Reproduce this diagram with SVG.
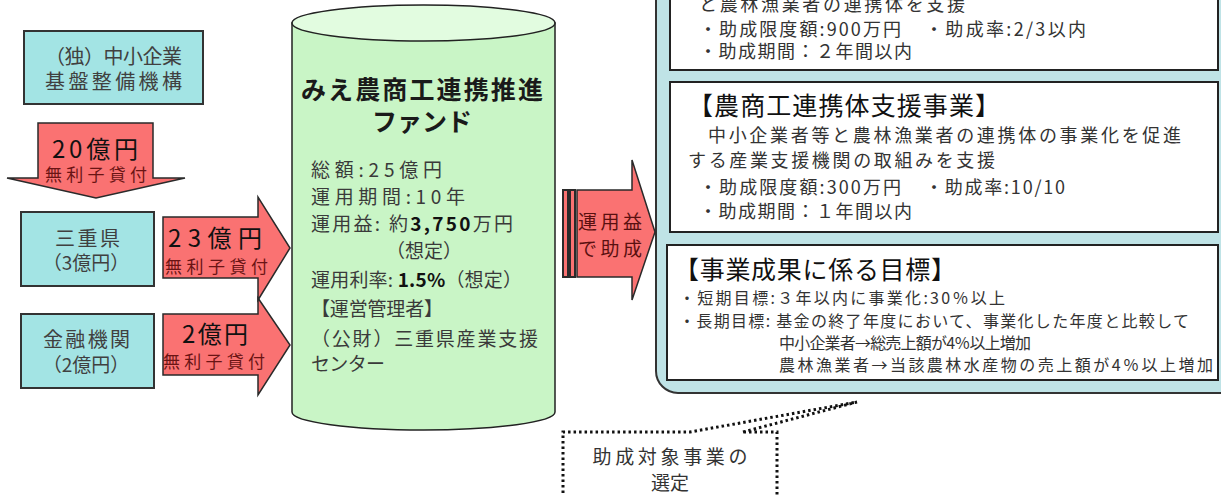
<svg xmlns="http://www.w3.org/2000/svg" width="1221" height="495" viewBox="0 0 1221 495">
<style>
text{font-family:"Noto Sans CJK JP","Noto Sans CJK SC",sans-serif;dominant-baseline:central}
.lbox{fill:#a3e4e4;stroke:#333;stroke-width:2}
.lt{font-size:20px;fill:#404040}
.lm{font-size:19px;fill:#404040;text-anchor:middle}
.red{fill:#fa7272;stroke:#2a2a2a;stroke-width:1.5;stroke-linejoin:miter}
.amt{font-size:24px;fill:#111}
.loan{font-size:17px;fill:#6a1414}
.ft{font-size:25px;font-weight:bold;fill:#1a1a1a}
.fb{font-size:19px;fill:#3a3a3a}
.bold{font-weight:bold;fill:#111}
.panel{fill:#bfe3e6;stroke:#333;stroke-width:2}
.wbox{fill:#fff;stroke:#222;stroke-width:2}
.ttl{font-size:25px;fill:#111}
.bt{font-size:18px;fill:#333}
.st{font-size:16px;fill:#333}
.dot{fill:none;stroke:#111;stroke-width:3;stroke-dasharray:2.5 3}
</style>

<g id="node-smrj">
<rect class="lbox" x="24" y="31" width="179" height="73"/>
<text class="lt" x="45" y="55" textLength="137">（独）中小企業</text>
<text class="lt" x="45" y="80" textLength="137">基盤整備機構</text>
</g>

<g id="node-mie">
<rect class="lbox" x="21" y="212" width="133" height="74"/>
<text class="lt" x="55" y="237" textLength="65">三重県</text>
<text class="lm" x="86" y="261">（3億円）</text>
</g>

<g id="node-bank">
<rect class="lbox" x="21" y="314" width="133" height="74"/>
<text class="lt" x="43" y="338" textLength="87">金融機関</text>
<text class="lm" x="86" y="363">（2億円）</text>
</g>

<g id="node-fund">
<path d="M292,23 V412 A131.5,18 0 0 0 555,412 V23 Z" fill="#c9f5c6" stroke="#222" stroke-width="1.5"/>
<ellipse cx="423.5" cy="23" rx="131.5" ry="18" fill="#e2fce0" stroke="#222" stroke-width="1.5"/>
<text class="ft" x="301" y="88" textLength="242">みえ農商工連携推進</text>
<text class="ft" x="422" y="120" text-anchor="middle">ファンド</text>
<text class="fb" x="311" y="168" textLength="131">総額:25億円</text>
<text class="fb" x="311" y="195" textLength="154">運用期間:10年</text>
<text class="fb" x="311" y="222" textLength="202">運用益: 約<tspan class="bold">3,750</tspan>万円</text>
<text class="fb" x="424" y="249" text-anchor="middle">（想定）</text>
<text class="fb" x="311" y="278" textLength="211">運用利率: <tspan class="bold">1.5%</tspan>（想定）</text>
<text class="fb" x="311" y="307" textLength="132">【運営管理者】</text>
<text class="fb" x="311" y="337" textLength="227">（公財）三重県産業支援</text>
<text class="fb" x="311" y="362" textLength="74">センター</text>
</g>

<g id="node-panel">
<rect class="panel" x="656" y="-30" width="600" height="423" rx="22"/>
</g>

<g id="node-box1">
<rect class="wbox" x="670" y="-10" width="548" height="80"/>
<text class="bt" x="699" y="3" textLength="266">と農林漁業者の連携体を支援</text>
<text class="bt" x="699" y="28" textLength="202">・助成限度額:900万円</text>
<text class="bt" x="925" y="28" textLength="161">・助成率:2/3以内</text>
<text class="bt" x="699" y="50" textLength="213">・助成期間：２年間以内</text>
</g>

<g id="node-box2">
<rect class="wbox" x="670" y="82" width="548" height="150"/>
<text class="ttl" x="688" y="104" textLength="312">【農商工連携体支援事業】</text>
<text class="bt" x="708" y="134" textLength="473">中小企業者等と農林漁業者の連携体の事業化を促進</text>
<text class="bt" x="688" y="159" textLength="307">する産業支援機関の取組みを支援</text>
<text class="bt" x="699" y="186" textLength="202">・助成限度額:300万円</text>
<text class="bt" x="925" y="186" textLength="140">・助成率:10/10</text>
<text class="bt" x="699" y="210" textLength="213">・助成期間：１年間以内</text>
</g>

<g id="node-box3">
<rect class="wbox" x="667" y="245" width="551" height="135"/>
<text class="ttl" x="674" y="268" textLength="282">【事業成果に係る目標】</text>
<text class="st" x="679" y="297" textLength="326">・短期目標:３年以内に事業化:30％以上</text>
<text class="st" x="679" y="320" textLength="510">・長期目標: 基金の終了年度において、事業化した年度と比較して</text>
<text class="st" x="779" y="342" textLength="252">中小企業者→総売上額が4％以上増加</text>
<text class="st" x="779" y="364" textLength="434">農林漁業者→当該農林水産物の売上額が4％以上増加</text>
</g>

<g id="node-callout">
<rect x="563" y="432" width="214" height="80" fill="#fff"/>
<path class="dot" d="M743,432 L857,402 L690,432 H563 V500 M777,500 V432 H743"/>
<text x="670" y="455" text-anchor="middle" style="font-size:19px;fill:#333" textLength="155">助成対象事業の</text>
<text x="670" y="481" text-anchor="middle" style="font-size:19px;fill:#333">選定</text>
</g>

<g id="connectors">
<g id="arrow-20">
<polygon class="red" points="38,123 153,123 153,178 185,178 96,198 7,178 38,178"/>
<text class="amt" x="52" y="147" textLength="86">20億円</text>
<text class="loan" x="45" y="173" textLength="102">無利子貸付</text>
</g>
<g id="arrow-23">
<polygon class="red" points="163,217 258,217 258,197 290,248 258,300 258,278 163,278"/>
<text class="amt" x="168" y="236" textLength="94">23億円</text>
<text class="loan" x="165" y="265" textLength="103">無利子貸付</text>
</g>
<g id="arrow-2">
<polygon class="red" points="163,314 258,314 258,298 290,345 258,395 258,375 163,375"/>
<text class="amt" x="182" y="332" textLength="66">2億円</text>
<text class="loan" x="163" y="360" textLength="102">無利子貸付</text>
</g>
<g id="arrow-grant">
<rect class="red" x="563" y="190" width="5" height="87" style="stroke-width:2"/>
<rect class="red" x="570" y="190" width="5" height="87" style="stroke-width:2"/>
<polygon class="red" points="577,190 632,190 632,160 655,232 632,300 632,277 577,277"/>
<text x="578" y="220" style="font-size:19px;fill:#5a1010" textLength="64">運用益</text>
<text x="578" y="247" style="font-size:19px;fill:#5a1010" textLength="64">で助成</text>
</g>
</g>
</svg>
